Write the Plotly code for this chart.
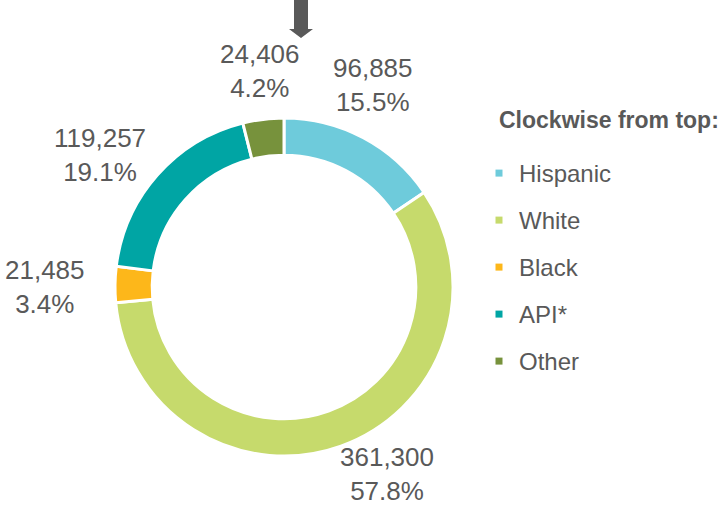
import plotly.graph_objects as go

# ---- data ----
categories = ["Hispanic", "White", "Black", "API*", "Other"]
values = [96885, 361300, 21485, 119257, 24406]
percents = [15.5, 57.8, 3.4, 19.1, 4.2]
colors = ["#6ECBDB", "#C6DA6C", "#FDB71A", "#00A5A4", "#77923C"]
legend_title = "Clockwise from top:"

W, H = 727, 506
TXT = "#595959"


def px(x):
    return x / W


def py(y):
    return 1 - y / H


fig = go.Figure()

fig.add_trace(go.Pie(
    labels=categories,
    values=values,
    marker=dict(colors=colors, line=dict(color="white", width=3)),
    hole=0.78,
    sort=False,
    direction="clockwise",
    rotation=0,
    textinfo="none",
    hoverinfo="label+value+percent",
    showlegend=False,
    domain=dict(x=[px(115), px(453)], y=[py(456), py(118)]),
))

# legend entries (one group each so spacing can be controlled)
for cat, col in zip(categories, colors):
    fig.add_trace(go.Scatter(
        x=[None], y=[None], mode="markers", name=cat,
        marker=dict(symbol="square", size=7, color=col),
        legendgroup=cat, showlegend=True,
    ))

# outside value labels
label_pos = [(373, 85), (387, 474), (45, 287), (100, 155), (260, 71)]
annotations = []
for (x, y), v, p in zip(label_pos, values, percents):
    annotations.append(dict(
        x=px(x), y=py(y), xref="paper", yref="paper",
        text=f"{v:,}<br>{p:.1f}%", showarrow=False,
        font=dict(family="Liberation Sans, Arial", size=26, color=TXT),
        xanchor="center", yanchor="middle", align="center",
    ))

annotations.append(dict(
    x=px(497), y=py(120), xref="paper", yref="paper",
    text=f"<b>{legend_title}</b>", showarrow=False,
    font=dict(family="Liberation Sans, Arial", size=23, color=TXT),
    xanchor="left", yanchor="middle",
))

# arrow pointing to the top of the ring
arrow_path = (
    f"M {px(294)} {py(0)} L {px(308)} {py(0)} L {px(308)} {py(29)} "
    f"L {px(313)} {py(29)} L {px(301)} {py(38)} L {px(289)} {py(29)} "
    f"L {px(294)} {py(29)} Z"
)

fig.update_layout(
    width=W, height=H,
    margin=dict(l=0, r=0, t=0, b=0),
    paper_bgcolor="white", plot_bgcolor="white",
    xaxis=dict(visible=False), yaxis=dict(visible=False),
    annotations=annotations,
    shapes=[dict(type="path", path=arrow_path, xref="paper", yref="paper",
                 fillcolor=TXT, line=dict(width=0))],
    legend=dict(
        x=px(479), y=py(151), xanchor="left", yanchor="top",
        font=dict(family="Liberation Sans, Arial", size=24, color=TXT),
        tracegroupgap=12.8, traceorder="grouped",
        itemsizing="trace", bgcolor="rgba(0,0,0,0)",
    ),
    showlegend=True,
)

fig.write_html("out.html", config={"displayModeBar": False},
               post_script="document.body.style.margin='0px';")
